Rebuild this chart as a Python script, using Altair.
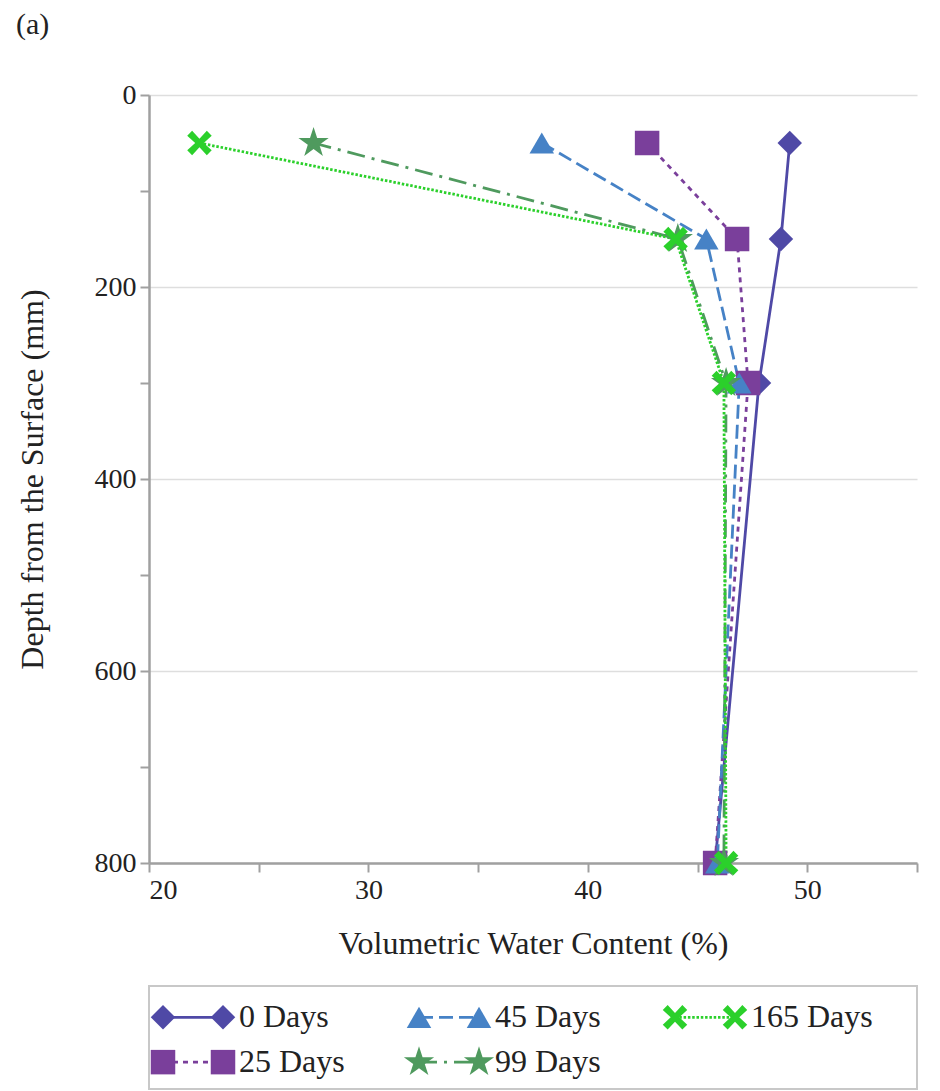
import altair as alt
import pandas as pd

# ---- data ----
depths = [50, 150, 300, 800]
series_names = ["0 Days", "25 Days", "45 Days", "99 Days", "165 Days"]
vwc_0 = [49.2, 48.8, 47.8, 45.8]
vwc_25 = [42.7, 46.8, 47.3, 45.8]
vwc_45 = [37.9, 45.4, 46.9, 45.9]
vwc_99 = [27.5, 44.1, 46.3, 46.2]
vwc_165 = [22.3, 44.0, 46.2, 46.3]
x_ticks = [20, 25, 30, 35, 40, 45, 50, 55]
y_ticks = [0, 100, 200, 300, 400, 500, 600, 700, 800]

legend_col = [0, 0, 1, 1, 2]
legend_row = [0, 1, 0, 1, 0]

# ---- styling ----
colors = ["#4f49a6", "#7a3f9b", "#4682c6", "#4f9a5e", "#2bd02b"]
dashes = [[1, 0], [5, 5], [14, 6], [18, 7, 3, 7], [2.5, 1.8]]
star = "M0,-1.3L0.292,-0.402L1.236,-0.402L0.472,0.153L0.764,1.052L0,0.497L-0.764,1.052L-0.472,0.153L-1.236,-0.402L-0.292,-0.402Z"
xmark = "M-1,-0.6L-0.6,-1L0,-0.35L0.6,-1L1,-0.6L0.35,0L1,0.6L0.6,1L0,0.35L-0.6,1L-1,0.6L-0.35,0Z"
shapes = ["diamond", "square", "triangle-up", star, xmark]
FONT = "Liberation Serif"
MSIZE = 600

rows = []
for name, vals in zip(series_names, [vwc_0, vwc_25, vwc_45, vwc_99, vwc_165]):
    for d, v in zip(depths, vals):
        rows.append({"series": name, "depth": d, "vwc": v, "order": series_names.index(name)})
df = pd.DataFrame(rows)

leg = pd.DataFrame({"series": series_names, "col": legend_col, "row": legend_row})

color = alt.Color("series:N", scale=alt.Scale(domain=series_names, range=colors), legend=None)
dash = alt.StrokeDash("series:N", scale=alt.Scale(domain=series_names, range=dashes), legend=None)
shape = alt.Shape("series:N", scale=alt.Scale(domain=series_names, range=shapes), legend=None)

xenc = alt.X("vwc:Q", scale=alt.Scale(domain=[20, 55], nice=False),
             axis=alt.Axis(title="Volumetric Water Content (%)", values=x_ticks,
                           labelExpr="datum.value % 10 == 0 ? datum.label : ''",
                           grid=False))
yenc = alt.Y("depth:Q", scale=alt.Scale(domain=[0, 800], reverse=True, nice=False),
             axis=alt.Axis(title="Depth from the Surface (mm)", values=y_ticks,
                           labelExpr="datum.value % 200 == 0 ? datum.label : ''",
                           grid=True,
                           gridOpacity={"condition": {"test": "datum.value % 200 === 0", "value": 1}, "value": 0}))

base = alt.Chart(df)
lines = base.mark_line(strokeWidth=2.8).encode(
    x=xenc, y=yenc, color=color, strokeDash=dash, order="depth:Q", detail="series:N")
points = base.mark_point(filled=True, size=MSIZE, opacity=1).encode(
    x="vwc:Q", y="depth:Q", color=color, shape=shape, order="order:Q")

main = alt.layer(lines, points).properties(width=768, height=768)

lx = alt.X("col:Q", scale=alt.Scale(domain=[0, 3], nice=False), axis=None)
ly = alt.Y("row:Q", scale=alt.Scale(domain=[-0.7, 1.6], nice=False, reverse=True), axis=None)
lbase = alt.Chart(leg)
lrule = lbase.mark_rule(xOffset=14, x2Offset=74, strokeWidth=2.8).encode(
    x=lx, x2="col:Q", y=ly, color=color, strokeDash=dash)
lp1 = lbase.mark_point(filled=True, size=MSIZE, opacity=1, xOffset=14).encode(
    x="col:Q", y="row:Q", color=color, shape=shape)
lp2 = lbase.mark_point(filled=True, size=MSIZE, opacity=1, xOffset=74).encode(
    x="col:Q", y="row:Q", color=color, shape=shape)
ltext = lbase.mark_text(align="left", baseline="middle", xOffset=90, font=FONT,
                        fontSize=32, color="#222").encode(
    x="col:Q", y="row:Q", text="series:N")
legend_chart = alt.layer(lrule, lp1, lp2, ltext).properties(
    width=768, height=103,
    view=alt.ViewBackground(stroke="#c8c8c8", strokeWidth=2))

chart = alt.vconcat(main, legend_chart, spacing=26).properties(
    title=alt.TitleParams("(a)", anchor="start", frame="bounds", font=FONT,
                          fontSize=30, fontWeight="normal", color="#222", offset=41),
    padding={"left": 8, "top": 2, "right": 2, "bottom": 0},
).configure_view(stroke=None).configure_axis(
    labelFont=FONT, titleFont=FONT, labelFontSize=28, titleFontSize=32,
    titleFontWeight="normal", labelColor="#222", titleColor="#222",
    domainColor="#a0a0a0", domainWidth=2.5, tickColor="#a0a0a0", tickWidth=2,
    tickSize=9, gridColor="#dedede", gridWidth=1.5, labelPadding=4,
).configure_axisY(titlePadding=45).configure_axisX(titlePadding=24)

chart.save("out.html", embed_options={"renderer": "svg", "actions": False})
